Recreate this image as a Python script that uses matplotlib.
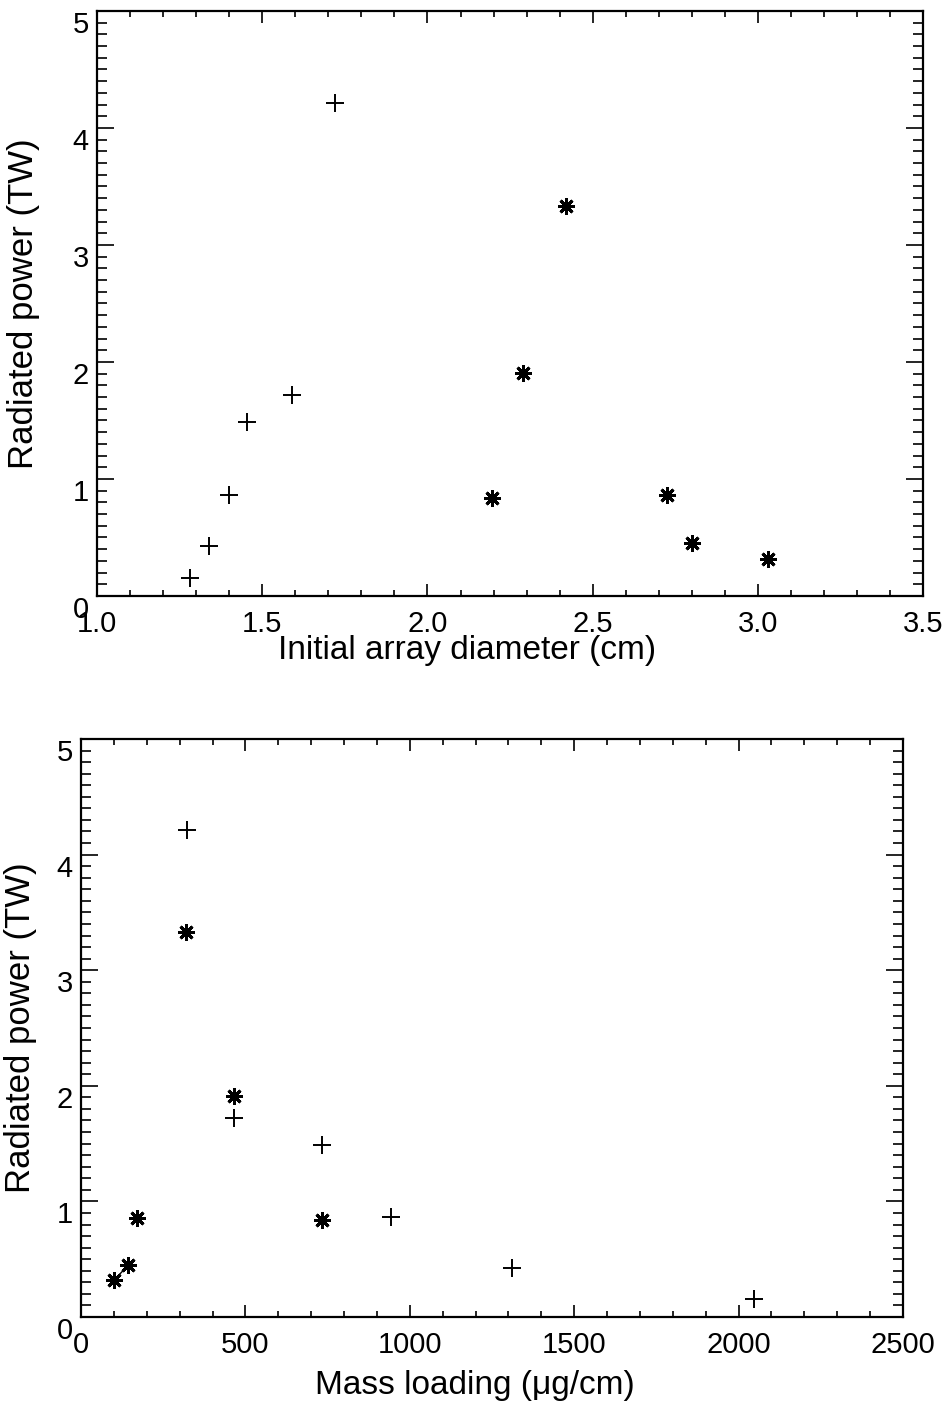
import numpy as np
import matplotlib
matplotlib.use("Agg")
from matplotlib import pyplot as plt
from matplotlib.ticker import MultipleLocator, FormatStrFormatter

# radiated power (TW) - shared by both panels
plus_power = [0.155, 0.425, 0.865, 1.49, 1.72, 4.215]
star_power = [0.84, 1.91, 3.33, 0.86, 0.45, 0.32]

# top panel: initial array diameter (cm)
plus_diam = [1.28, 1.34, 1.40, 1.455, 1.59, 1.72]
star_diam = [2.195, 2.29, 2.42, 2.725, 2.80, 3.03]

# bottom panel: mass loading (ug/cm)
plus_mass = [2047, 1310, 942, 733, 464, 321]
star_mass = [733, 464, 319, 170, 144, 101]

plt.rcParams['font.family'] = ['Liberation Sans', 'DejaVu Sans']

fig = plt.figure(figsize=(9.42, 14.06), dpi=100)
ax1 = fig.add_axes([0.103, 0.5761, 0.877, 0.4161])
ax2 = fig.add_axes([0.086, 0.0633, 0.8726, 0.4111])

asterisk = (8, 2, 0)

def style(ax, xmaj, xmin):
    ax.xaxis.set_major_locator(MultipleLocator(xmaj))
    ax.xaxis.set_minor_locator(MultipleLocator(xmin))
    ax.yaxis.set_major_locator(MultipleLocator(1))
    ax.yaxis.set_minor_locator(MultipleLocator(0.1))
    ax.set_ylim(0, 5)
    for s in ax.spines.values():
        s.set_linewidth(1.6)
    ax.tick_params(which='both', direction='in', top=True, right=True,
                   labelsize=21, width=1.2)
    ax.tick_params(axis='x', which='major', length=8.5, pad=10)
    ax.tick_params(axis='x', which='minor', length=4.5)
    ax.tick_params(axis='y', which='major', length=12, pad=6)
    ax.tick_params(axis='y', which='minor', length=7)
    for lab in ax.get_yticklabels():
        lab.set_verticalalignment('top')

# top panel
ax1.plot(plus_diam, plus_power, ls='none', marker='+', ms=13, mew=1.4, color='black')
ax1.plot(star_diam, star_power, ls='none', marker=asterisk, ms=12, mew=2.1, color='black')
ax1.set_xlim(1.0, 3.5)
style(ax1, 0.5, 0.1)
ax1.xaxis.set_major_formatter(FormatStrFormatter('%.1f'))
ax1.set_xlabel('Initial array diameter (cm)', fontsize=24)
ax1.set_ylabel('Radiated power (TW)', fontsize=25)
ax1.xaxis.set_label_coords(0.448, -0.067)
ax1.yaxis.set_label_coords(-0.069, 0.5)

# bottom panel
ax2.plot(plus_mass, plus_power, ls='none', marker='+', ms=13, mew=1.4, color='black')
ax2.plot(star_mass, star_power, ls='none', marker=asterisk, ms=12, mew=2.1, color='black')
# small stray segment joining the two lowest stars
ax2.plot(star_mass[-2:], star_power[-2:], color='black', lw=1.0)
ax2.set_xlim(0, 2500)
style(ax2, 500, 100)
ax2.set_xlabel('Mass loading (\u03bcg/cm)', fontsize=24)
ax2.set_ylabel('Radiated power (TW)', fontsize=25)
ax2.xaxis.set_label_coords(0.479, -0.092)
ax2.yaxis.set_label_coords(-0.054, 0.5)

fig.savefig('out.png', dpi=100)
